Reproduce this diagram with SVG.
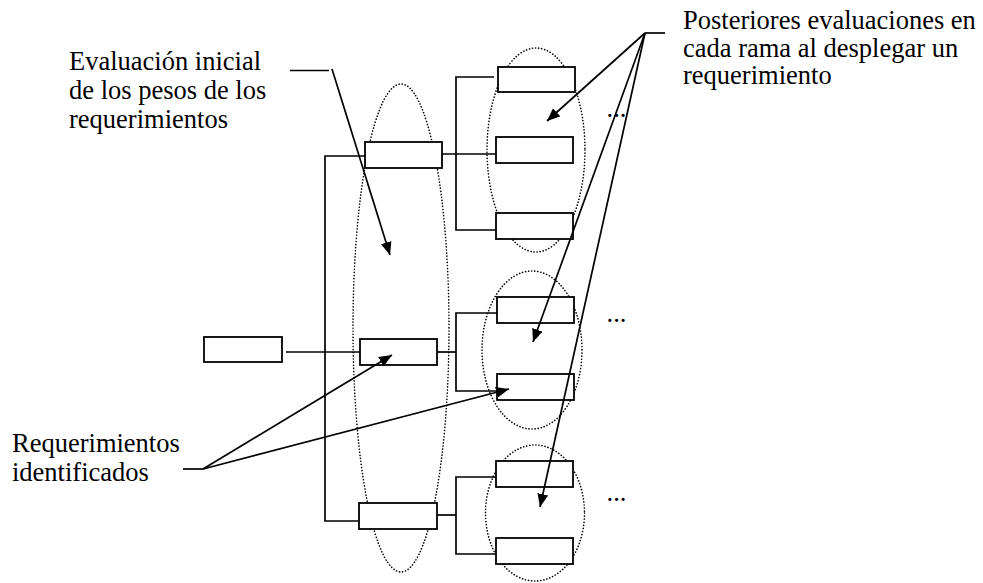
<svg xmlns="http://www.w3.org/2000/svg" width="983" height="583" viewBox="0 0 983 583">
<defs>
<marker id="arr" markerUnits="userSpaceOnUse" markerWidth="14" markerHeight="11" refX="13" refY="5.5" orient="auto">
<path d="M0,0 L13,5.5 L0,11 z" fill="#000"/>
</marker>
<style>
.box{fill:#fff;stroke:#000;stroke-width:1.8}
.ln{fill:none;stroke:#000;stroke-width:1.7}
.ell{fill:none;stroke:#000;stroke-width:1.6;stroke-dasharray:0.1 3;stroke-linecap:round}
.lbl{font-family:"Liberation Serif","Times New Roman",serif;font-size:26.5px;fill:#000}
</style>
</defs>
<rect width="983" height="583" fill="#fff"/>
<g id="ellipses">
<ellipse class="ell" cx="401" cy="328" rx="48" ry="244"/>
<ellipse class="ell" cx="536" cy="150" rx="49" ry="102"/>
<ellipse class="ell" cx="532" cy="350" rx="50" ry="79"/>
<ellipse class="ell" cx="535" cy="513" rx="49.5" ry="68"/>
</g>
<g id="connectors">
<path class="ln" d="M286,352 H360"/>
<path class="ln" d="M365,156 H325 V521 H363"/>
<path class="ln" d="M442,154 H496"/>
<path class="ln" d="M494,77 H456 V230 H496"/>
<path class="ln" d="M437,352 H456"/>
<path class="ln" d="M497,313 H456 V391 H497"/>
<path class="ln" d="M437,515 H456"/>
<path class="ln" d="M496,477 H456 V554 H496"/>
</g>
<g id="nodes">
<rect id="root" class="box" x="204" y="337" width="78" height="25"/>
<rect id="r1" class="box" x="365" y="142" width="77" height="26"/>
<rect id="r2" class="box" x="360" y="339" width="77" height="26"/>
<rect id="r3" class="box" x="359" y="503" width="78" height="26"/>
<rect id="r1a" class="box" x="498" y="67" width="77" height="25"/>
<rect id="r1b" class="box" x="496" y="137" width="77" height="26"/>
<rect id="r1c" class="box" x="496" y="213" width="77" height="26"/>
<rect id="r2a" class="box" x="497" y="297" width="77" height="26"/>
<rect id="r2b" class="box" x="497" y="374" width="77" height="26"/>
<rect id="r3a" class="box" x="496" y="461" width="77" height="26"/>
<rect id="r3b" class="box" x="496" y="538" width="77" height="26"/>
</g>
<g id="callouts">
<path class="ln" d="M290,70.5 H329"/>
<path class="ln" d="M332,69 L390,255" marker-end="url(#arr)"/>
<path class="ln" d="M665,33 H645"/>
<path class="ln" d="M645,33 L547,121" marker-end="url(#arr)"/>
<path class="ln" d="M645,33 L533,342" marker-end="url(#arr)"/>
<path class="ln" d="M645,33 L540,507" marker-end="url(#arr)"/>
<path class="ln" d="M183,469 H203"/>
<path class="ln" d="M203,469 L392,355" marker-end="url(#arr)"/>
<path class="ln" d="M203,469 L509,389" marker-end="url(#arr)"/>
</g>
<g id="labels">
<text class="lbl" x="69" y="70">Evaluación inicial</text>
<text class="lbl" x="69" y="99">de los pesos de los</text>
<text class="lbl" x="69" y="128">requerimientos</text>
<text class="lbl" x="683" y="29">Posteriores evaluaciones en</text>
<text class="lbl" x="683" y="57">cada rama al desplegar un</text>
<text class="lbl" x="683" y="84">requerimiento</text>
<text class="lbl" x="12" y="452">Requerimientos</text>
<text class="lbl" x="12" y="481">identificados</text>
<text class="lbl" x="606.5" y="116.5">...</text>
<text class="lbl" x="606.5" y="321.5">...</text>
<text class="lbl" x="606.5" y="501">...</text>
</g>
</svg>
